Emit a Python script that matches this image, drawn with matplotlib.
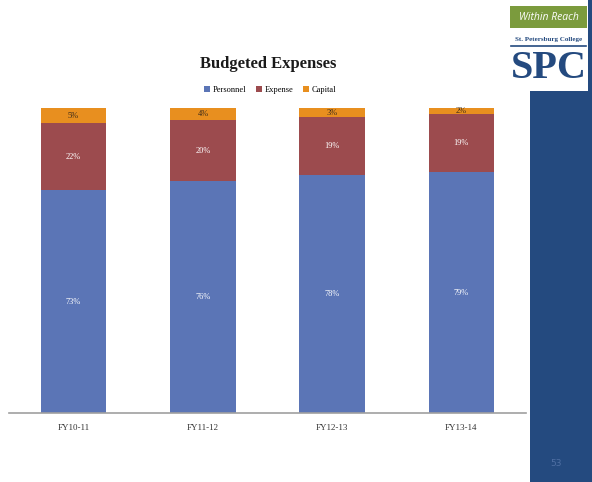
import matplotlib.pyplot as plt
from matplotlib.patches import Rectangle
import numpy as np

# data
years = ["FY10-11", "FY11-12", "FY12-13", "FY13-14"]
personnel = [73, 76, 78, 79]
expense = [22, 20, 19, 19]
capital = [5, 4, 3, 2]

c_pers = "#5B75B6"
c_exp = "#9C4B4E"
c_cap = "#E88F1F"
navy = "#244A7F"

W, H = 592, 482
fig = plt.figure(figsize=(W / 100, H / 100), dpi=100)
fig.patch.set_facecolor("white")

def px(x, y, w, h):
    # pixel box (top-left origin) -> figure fraction
    return [x / W, 1 - (y + h) / H, w / W, h / H]

# right hand blue strip and logo
fig.patches.append(Rectangle((530 / W, 0), 62 / W, 1, transform=fig.transFigure,
                             facecolor=navy, edgecolor="none", zorder=0))
b = px(509, 0, 79, 91)
fig.patches.append(Rectangle((b[0], b[1]), b[2], b[3], transform=fig.transFigure,
                             facecolor="white", edgecolor="none", zorder=1))
g = px(510, 6, 77, 22)
fig.patches.append(Rectangle((g[0], g[1]), g[2], g[3], transform=fig.transFigure,
                             facecolor="#7B9B3D", edgecolor="none", zorder=2))
fig.text(548.5 / W, 1 - 17 / H, "Within Reach", color="white", style="italic",
         fontsize=7.5, ha="center", va="center", family="Open Sans", zorder=3)
fig.text(548.5 / W, 1 - 40 / H, "St. Petersburg College", color=navy,
         fontsize=5, ha="center", va="center", family="Liberation Serif",
         weight="bold", zorder=3)
fig.lines.append(plt.Line2D([511 / W, 586 / W], [1 - 46 / H, 1 - 46 / H],
                            transform=fig.transFigure, color=navy, lw=1.2, zorder=3))
fig.text(548.5 / W, 1 - 69 / H, "SPC", color=navy, fontsize=29, weight="bold",
         ha="center", va="center", family="Liberation Serif", zorder=3)
fig.text(556 / W, 1 - 463 / H, "53", color="#4F6FA3", fontsize=6.5,
         ha="center", va="center", family="DejaVu Sans")

# chart
ax = fig.add_axes(px(9, 108, 517, 305))
x = np.arange(len(years))
bw = 0.505
ax.bar(x, personnel, bw, color=c_pers, label="Personnel")
ax.bar(x, expense, bw, bottom=personnel, color=c_exp, label="Expense")
bot2 = np.array(personnel) + np.array(expense)
ax.bar(x, capital, bw, bottom=bot2, color=c_cap, label="Capital")

for i in range(len(years)):
    ax.text(x[i], personnel[i] / 2, f"{personnel[i]}%", color="white",
            ha="center", va="center", fontsize=6, family="Liberation Serif")
    ax.text(x[i], personnel[i] + expense[i] / 2, f"{expense[i]}%", color="white",
            ha="center", va="center", fontsize=6, family="Liberation Serif")
    ax.text(x[i], bot2[i] + capital[i] / 2, f"{capital[i]}%", color="#3a2a1a",
            ha="center", va="center", fontsize=6, family="Liberation Serif")

ax.set_xlim(-0.5, len(years) - 0.5)
ax.set_ylim(0, 100)
ax.set_xticks(x)
ax.set_xticklabels(years, family="Liberation Serif", fontsize=6.5, color="#333333")
ax.tick_params(axis="x", length=0, pad=8)
ax.set_yticks([])
for s in ["top", "right", "left"]:
    ax.spines[s].set_visible(False)
ax.spines["bottom"].set_color("#A0A0A0")
ax.spines["bottom"].set_linewidth(1.2)
ax.patch.set_alpha(0)

fig.text(268 / W, 1 - 64 / H, "Budgeted Expenses", fontsize=12, weight="bold",
         family="Liberation Serif", ha="center", va="center", color="#1a1a1a")
fig.legend(loc="center", bbox_to_anchor=(270 / W, 1 - 90 / H), ncol=3,
           frameon=False, prop={"family": "Liberation Serif", "size": 6},
           handlelength=0.7, handleheight=0.7, handletextpad=0.3, columnspacing=1.2)

fig.savefig("out.png", dpi=100)
